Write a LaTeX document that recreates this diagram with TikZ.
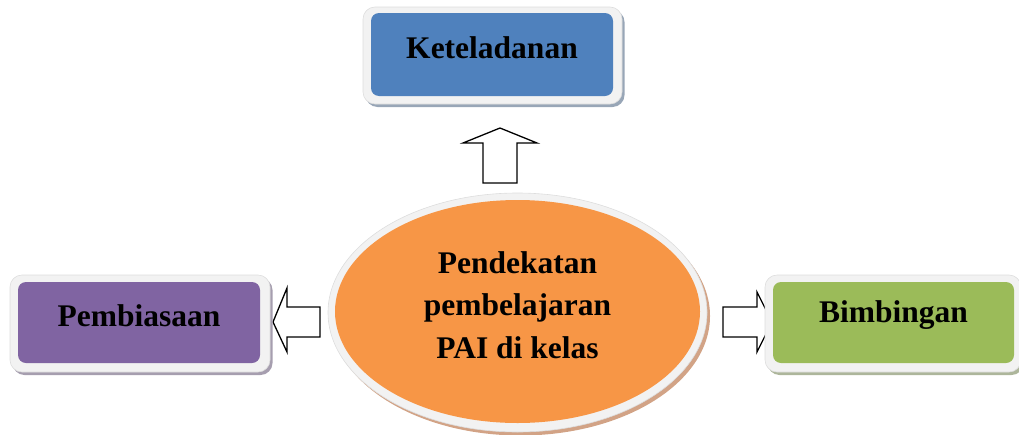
\documentclass[tikz,border=0pt]{standalone}
\usepackage{fontspec}
\setmainfont{Liberation Serif}
\usetikzlibrary{shapes.geometric}
\definecolor{kblue}{HTML}{4F81BD}
\definecolor{kpurple}{HTML}{8064A2}
\definecolor{kgreen}{HTML}{9BBB59}
\definecolor{korange}{HTML}{F79646}
\definecolor{frame}{HTML}{F2F2F2}
\definecolor{frameedge}{HTML}{DDDDDD}
\definecolor{tanshadow}{HTML}{D2A386}
\begin{document}
\begin{tikzpicture}[x=1pt,y=-1pt,
  lbl/.style={font=\fontsize{31.5}{36}\selectfont\bfseries, text=black},
  framebox/.style={rectangle, rounded corners=12pt, fill=frame, draw=frameedge, line width=0.6pt, inner sep=0pt},
  innerbox/.style={rectangle, rounded corners=8pt, inner sep=0pt},
  blockarrow/.style={draw=black, fill=white, line width=1.3pt, line join=miter}]
\useasboundingbox (0,0) rectangle (1019,434);

% block arrows
\draw[blockarrow] (500,128) -- (537,143) -- (517,143) -- (517,183) -- (483,183) -- (483,143) -- (463,143) -- cycle;
\draw[blockarrow] (273,322) -- (287,288) -- (287,307) -- (320,307) -- (320,337) -- (287,337) -- (287,352) -- cycle;
\draw[blockarrow] (723,307) -- (757,307) -- (757,292) -- (772,322) -- (757,352) -- (757,337) -- (723,337) -- cycle;

% top box
\node[framebox, fill=kblue!40!gray!70, draw=none, minimum width=259pt, minimum height=97pt] at (495,58.5) {};
\node[framebox, minimum width=259pt, minimum height=97pt] (kframe) at (492.5,55.5) {};
\node[innerbox, fill=kblue, minimum width=242pt, minimum height=83pt] (kbox) at (492,54.5) {};
\node[lbl] (ktext) at ([yshift=7pt]kbox.center) {Keteladanan};

% left box
\node[framebox, fill=kpurple!40!gray!70, draw=none, minimum width=260pt, minimum height=97pt] at (142.5,326.5) {};
\node[framebox, minimum width=260pt, minimum height=97pt] (pframe) at (140,323.5) {};
\node[innerbox, fill=kpurple, minimum width=242pt, minimum height=81pt] (pbox) at (139,322.5) {};
\node[lbl] (ptext) at ([yshift=7pt]pbox.center) {Pembiasaan};

% right box
\node[framebox, fill=kgreen!40!gray!70, draw=none, minimum width=256pt, minimum height=97pt] at (895.5,326.5) {};
\node[framebox, minimum width=256pt, minimum height=97pt] (bframe) at (893,323.5) {};
\node[innerbox, fill=kgreen, minimum width=241pt, minimum height=81pt] (bbox) at (893.5,322.5) {};
\node[lbl] (btext) at ([yshift=7pt]bbox.center) {Bimbingan};

% central ellipse
\node[ellipse, fill=tanshadow, minimum width=379pt, minimum height=239pt, inner sep=0pt] at (520.5,316) {};
\node[ellipse, fill=frame, draw=frameedge, line width=0.6pt, minimum width=379pt, minimum height=239pt, inner sep=0pt] (cframe) at (517.5,312.5) {};
\node[ellipse, fill=korange, minimum width=365pt, minimum height=223pt, inner sep=0pt] (center) at (517.5,311.5) {};
\node[lbl, align=center, font=\fontsize{31.5}{42.5}\selectfont\bfseries] (ctext) at (517.5,305) {Pendekatan\\pembelajaran\\PAI di kelas};
\end{tikzpicture}
\end{document}
